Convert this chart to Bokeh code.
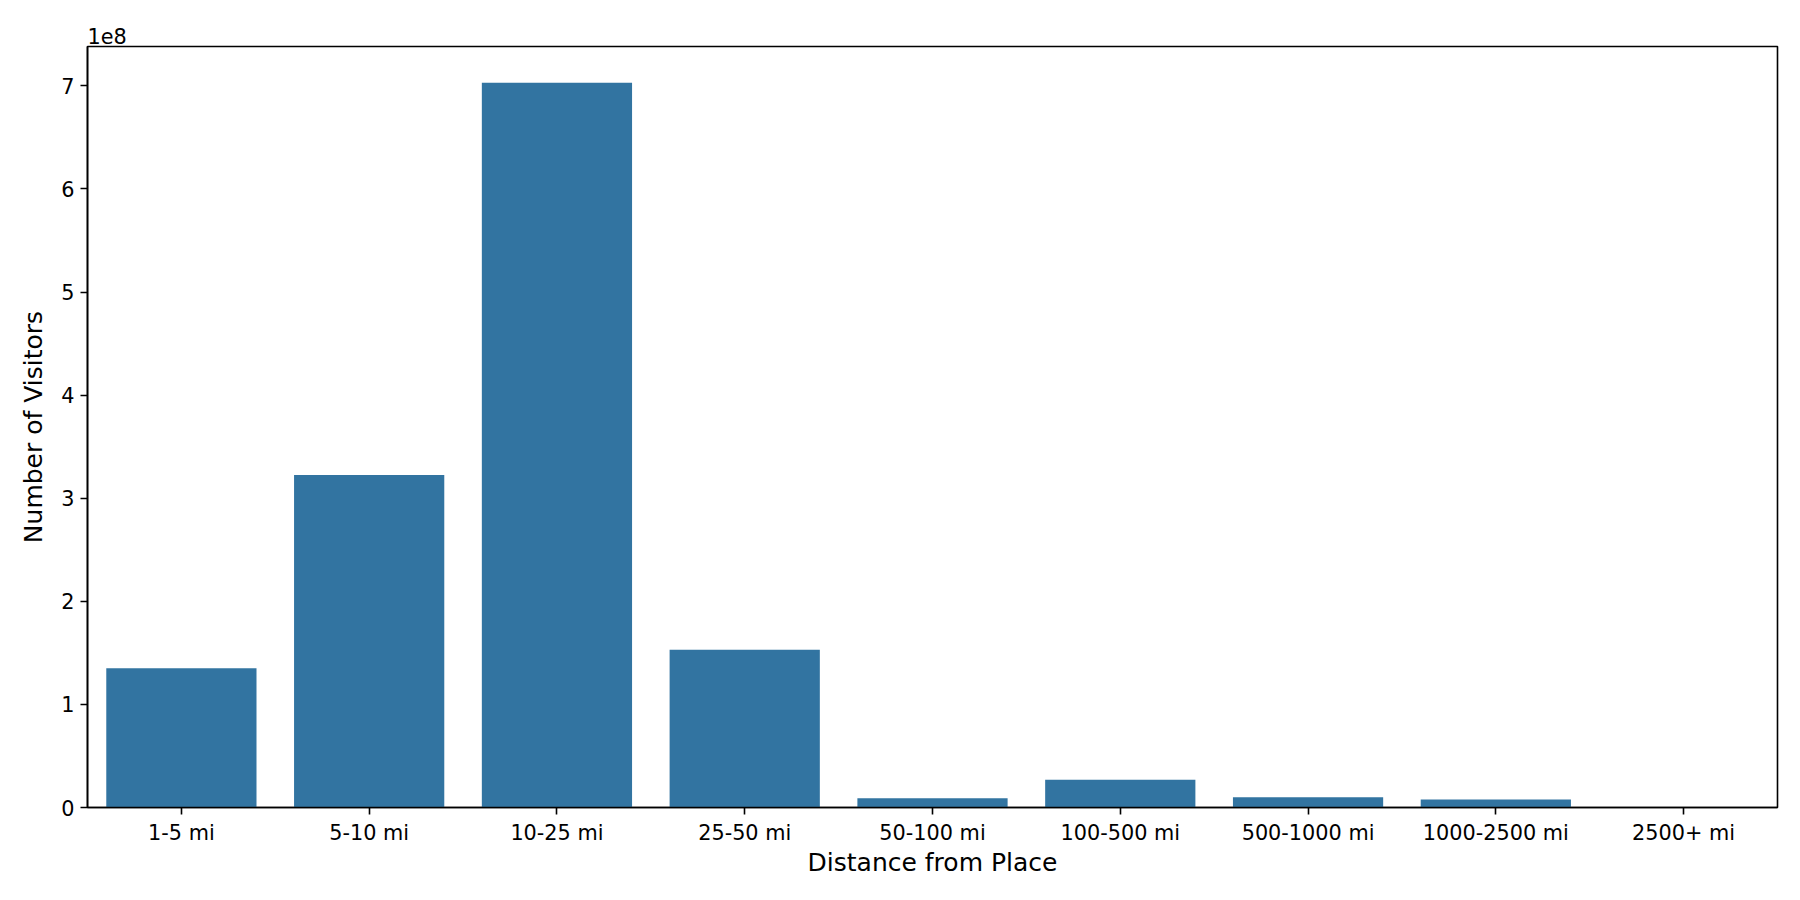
from bokeh.plotting import figure
from bokeh.models import Range1d, FixedTicker, CustomJSTickFormatter
from bokeh.embed import file_html
from bokeh.resources import INLINE

categories = ["1-5 mi", "5-10 mi", "10-25 mi", "25-50 mi", "50-100 mi",
              "100-500 mi", "500-1000 mi", "1000-2500 mi", "2500+ mi"]
visitors = [1.35e8, 3.225e8, 7.03e8, 1.53e8, 9.0e6, 2.7e7, 1.0e7, 7.8e6, 6.0e5]
y_ticks = [0, 1e8, 2e8, 3e8, 4e8, 5e8, 6e8, 7e8]

FONT = "DejaVu Sans"
BAR = "#3274a1"
TICK_FS = "20.8px"
LABEL_FS = "25px"

p = figure(x_range=categories, width=1784, height=884,
           output_backend="svg", toolbar_location=None,
           title="1e8",
           min_border_left=87, min_border_right=7,
           min_border_top=46, min_border_bottom=77)
ymax = max(visitors) * 1.05
p.y_range = Range1d(0, ymax)

p.vbar(x=categories, top=visitors, width=0.8, fill_color=BAR, line_color=None)

p.title.align = "left"
p.title.text_font = FONT
p.title.text_font_size = TICK_FS
p.title.text_font_style = "normal"
p.title.text_color = "black"
p.title.standoff = 6
p.title.offset = 0

p.xgrid.visible = False
p.ygrid.visible = False
p.outline_line_color = "black"
p.outline_line_width = 1.6

p.yaxis.ticker = FixedTicker(ticks=y_ticks)
p.yaxis.formatter = CustomJSTickFormatter(code="return (tick/1e8).toFixed(0);")

for ax in (p.xaxis[0], p.yaxis[0]):
    ax.axis_line_color = "black"
    ax.axis_line_width = 1.6
    ax.major_tick_line_color = "black"
    ax.major_tick_line_width = 1.6
    ax.major_tick_in = 0
    ax.major_tick_out = 7
    ax.minor_tick_line_color = None
    ax.major_label_text_font = FONT
    ax.major_label_text_font_size = TICK_FS
    ax.major_label_text_color = "black"
    ax.axis_label_text_font = FONT
    ax.axis_label_text_font_size = LABEL_FS
    ax.axis_label_text_font_style = "normal"
    ax.axis_label_text_color = "black"

p.xaxis.axis_label = "Distance from Place"
p.yaxis.axis_label = "Number of Visitors"
p.xaxis.major_label_standoff = 6
p.yaxis.major_label_standoff = 6
p.xaxis.axis_label_standoff = 0
p.yaxis.axis_label_standoff = 10

open("out.html", "w").write(file_html(p, INLINE))
